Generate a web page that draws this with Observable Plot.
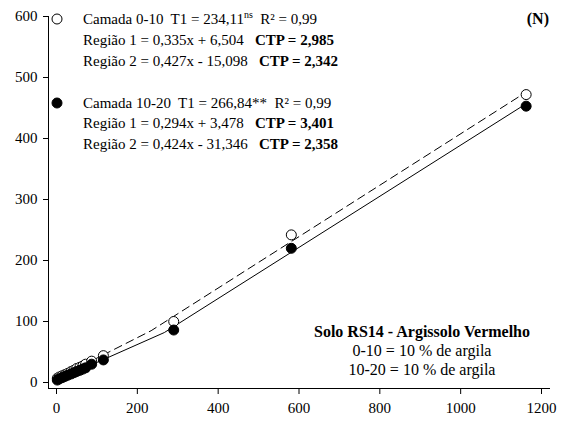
<!DOCTYPE html>
<html><head><meta charset="utf-8">
<script src="https://cdn.jsdelivr.net/npm/d3@7"></script>
<script src="https://cdn.jsdelivr.net/npm/@observablehq/plot@0.6"></script>
<style>body{margin:0;background:#fff} svg{display:block} svg text{font-family: "Liberation Serif", "Times New Roman", serif;}</style>
</head><body><div id="chart"></div>
<script>
// Doses (x) and observed values for each soil layer
const doses      = [2, 7, 14, 21, 28, 36, 43, 50, 58, 65, 72, 87, 116, 290, 581, 1162];
const camada0_10 = [7, 9, 11, 13, 15, 18, 20, 23, 25, 27, 30, 35, 44, 100, 242, 472];
const camada10_20= [4, 6, 8, 10, 12, 14, 16, 18, 20, 22, 24, 30, 37, 86, 220, 453];
// Segmented fit vertices (start, breakpoint T1, end)
const fit0_10_x  = [0, 234.11, 1162];
const fit0_10_y  = [6.5, 84.9, 476];
const fit10_20_x = [0, 266.84, 1162];
const fit10_20_y = [3.5, 81.9, 457];
const xTicks = [0, 200, 400, 600, 800, 1000, 1200];
const yTicks = [0, 100, 200, 300, 400, 500, 600];

const toRows = (xs, ys) => xs.map((x, i) => ({x, y: ys[i]}));
const FONT = "Liberation Serif, Times New Roman, serif";

const chart = Plot.plot({
  width: 573, height: 421,
  marginLeft: 48, marginRight: 24, marginTop: 16, marginBottom: 33,
  insetLeft: 8, insetRight: 8, insetBottom: 6,
  style: {fontFamily: FONT, fontSize: "15px", background: "#fff", color: "#000"},
  x: {domain: [0, 1200], ticks: xTicks, tickFormat: d => String(d), tickSize: 6, tickPadding: 8, label: null},
  y: {domain: [0, 600], ticks: yTicks, tickFormat: d => String(d), tickSize: 5, tickPadding: 6, label: null},
  marks: [
    Plot.frame({anchor: "left", stroke: "#000"}),
    Plot.frame({anchor: "bottom", stroke: "#000"}),
    Plot.line(toRows(fit0_10_x, fit0_10_y), {x: "x", y: "y", stroke: "#000", strokeWidth: 1, strokeDasharray: "8,5"}),
    Plot.line(toRows(fit10_20_x, fit10_20_y), {x: "x", y: "y", stroke: "#000", strokeWidth: 1}),
    Plot.dot(toRows(doses, camada0_10), {x: "x", y: "y", r: 5, fill: "#fff", stroke: "#000", strokeWidth: 1}),
    Plot.dot(toRows(doses, camada10_20), {x: "x", y: "y", r: 5, fill: "#000", stroke: "#000", strokeWidth: 1})
  ]
});
document.getElementById("chart").appendChild(chart);

// Annotations (legend + soil description)
const svg = d3.select(chart);
const g = svg.append("g").attr("font-family", FONT).attr("font-size", 15).attr("fill", "#000");
function line(x, y, parts, anchor, size) {
  const t = g.append("text").attr("x", x).attr("y", y).attr("text-anchor", anchor || "start").style("white-space", "pre");
  if (size) t.attr("font-size", size);
  for (const p of parts) {
    const s = t.append("tspan").text(p.t);
    if (p.b) s.attr("font-weight", "bold");
    if (p.sup) s.attr("font-size", 10).attr("dy", -6);
    if (p.after) s.attr("dy", 6);
  }
}
g.append("circle").attr("cx", 57).attr("cy", 19).attr("r", 5).attr("fill", "#fff").attr("stroke", "#000");
line(83, 24, [{t: "Camada 0-10  T1 = 234,11"}, {t: "ns", sup: true}, {t: "  R² = 0,99", after: true}]);
line(83, 45, [{t: "Região 1 = 0,335x + 6,504   "}, {t: "CTP = 2,985", b: true}]);
line(83, 66, [{t: "Região 2 = 0,427x - 15,098   "}, {t: "CTP = 2,342", b: true}]);
g.append("circle").attr("cx", 57).attr("cy", 103).attr("r", 5).attr("fill", "#000").attr("stroke", "#000");
line(83, 108, [{t: "Camada 10-20  T1 = 266,84**  R² = 0,99"}]);
line(83, 128, [{t: "Região 1 = 0,294x + 3,478   "}, {t: "CTP = 3,401", b: true}]);
line(83, 149, [{t: "Região 2 = 0,424x - 31,346   "}, {t: "CTP = 2,358", b: true}]);
line(549, 24, [{t: "(N)", b: true}], "end", 16);
line(422, 337, [{t: "Solo RS14 - Argissolo Vermelho", b: true}], "middle", 16);
line(422, 356, [{t: "0-10 = 10 % de argila"}], "middle", 16);
line(422, 375, [{t: "10-20 = 10 % de argila"}], "middle", 16);
</script>
</body></html>
